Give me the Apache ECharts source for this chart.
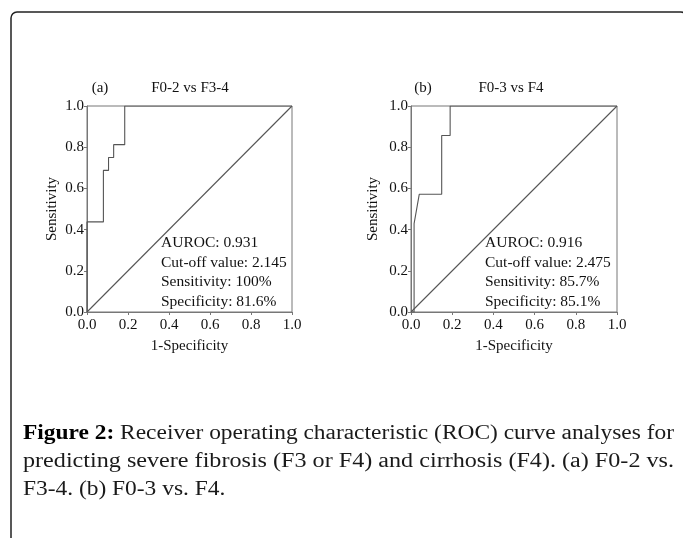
<!DOCTYPE html>
<html>
<head>
<meta charset="utf-8">
<script src="https://cdn.jsdelivr.net/npm/echarts@6/dist/echarts.min.js"></script>
<style>html,body{margin:0;padding:0;background:#fff;}#c{width:683px;height:538px;}</style>
</head>
<body>
<div id="c"></div>
<script>
// Panel (a): F0-2 vs F3-4
var fprA = [0, 0, 0.08, 0.08, 0.105, 0.105, 0.13, 0.13, 0.184, 0.184, 1];
var tprA = [0, 0.4375, 0.4375, 0.6875, 0.6875, 0.75, 0.75, 0.8125, 0.8125, 1, 1];
// Panel (b): F0-3 vs F4
var fprB = [0, 0.015, 0.015, 0.04, 0.149, 0.149, 0.19, 0.19, 1];
var tprB = [0, 0, 0.4286, 0.5714, 0.5714, 0.857, 0.857, 1, 1];
var diagX = [0, 1];
var diagY = [0, 1];
var ticks = ['0.0', '0.2', '0.4', '0.6', '0.8', '1.0'];
var panelTags = ['(a)', '(b)'];
var panelTitles = ['F0-2 vs F3-4', 'F0-3 vs F4'];
var statsA = ['AUROC: 0.931', 'Cut-off value: 2.145', 'Sensitivity: 100%', 'Specificity: 81.6%'];
var statsB = ['AUROC: 0.916', 'Cut-off value: 2.475', 'Sensitivity: 85.7%', 'Specificity: 85.1%'];
var xName = '1-Specificity';
var yName = 'Sensitivity';
var captionBold = 'Figure 2:';
var captionLines = [
  ' Receiver operating characteristic (ROC) curve analyses for',
  'predicting severe fibrosis (F3 or F4) and cirrhosis (F4). (a) F0-2 vs.',
  'F3-4. (b) F0-3 vs. F4.'
];

function pairs(xs, ys) { return xs.map(function (x, i) { return [x, ys[i]]; }); }

var FONT = 'Liberation Serif';
var TXT = '#111';
var grids = [
  { left: 87, top: 106, width: 205, height: 206 },
  { left: 411, top: 106, width: 206, height: 206 }
];
var yGaps = [27, 30];

function fmt(v) { return ticks[Math.round(v * 5)]; }

var xAxes = [], yAxes = [];
[0, 1].forEach(function (i) {
  xAxes.push({
    type: 'value', gridIndex: i, min: 0, max: 1, interval: 0.2,
    name: xName, nameLocation: 'middle', nameGap: 27,
    nameTextStyle: { fontFamily: FONT, fontSize: 15, color: TXT },
    axisLine: { show: true, lineStyle: { color: '#777', width: 1 } },
    axisTick: { show: true, length: 3, lineStyle: { color: '#777' } },
    axisLabel: { formatter: fmt, fontFamily: FONT, fontSize: 15, color: TXT, margin: 6 },
    splitLine: { show: false }
  });
  yAxes.push({
    type: 'value', gridIndex: i, min: 0, max: 1, interval: 0.2,
    name: yName, nameLocation: 'middle', nameGap: yGaps[i],
    nameTextStyle: { fontFamily: FONT, fontSize: 15, color: TXT },
    axisLine: { show: true, lineStyle: { color: '#777', width: 1 } },
    axisTick: { show: true, length: 3, lineStyle: { color: '#777' } },
    axisLabel: { formatter: fmt, fontFamily: FONT, fontSize: 15, color: TXT, margin: 3 },
    splitLine: { show: false }
  });
});

var lineStyle = { color: '#555', width: 1.1 };
var series = [
  { type: 'line', xAxisIndex: 0, yAxisIndex: 0, data: pairs(fprA, tprA), showSymbol: false, lineStyle: lineStyle, animation: false },
  { type: 'line', xAxisIndex: 0, yAxisIndex: 0, data: pairs(diagX, diagY), showSymbol: false, lineStyle: lineStyle, animation: false },
  { type: 'line', xAxisIndex: 1, yAxisIndex: 1, data: pairs(fprB, tprB), showSymbol: false, lineStyle: lineStyle, animation: false },
  { type: 'line', xAxisIndex: 1, yAxisIndex: 1, data: pairs(diagX, diagY), showSymbol: false, lineStyle: lineStyle, animation: false }
];

var graphic = [
  { type: 'rect', shape: { x: 11, y: 12, width: 676, height: 600, r: 6 },
    style: { fill: 'none', stroke: '#222', lineWidth: 1.5 }, silent: true }
];
var tagX = [100, 423], titleX = [190, 511], statX = [161, 485];
var statY = [243, 263, 282, 302];
[0, 1].forEach(function (i) {
  graphic.push({ type: 'text', x: tagX[i], y: 88, style: { text: panelTags[i], font: '15px "' + FONT + '"', fill: TXT, align: 'center', verticalAlign: 'middle' } });
  graphic.push({ type: 'text', x: titleX[i], y: 88, style: { text: panelTitles[i], font: '15px "' + FONT + '"', fill: TXT, align: 'center', verticalAlign: 'middle' } });
  var st = i === 0 ? statsA : statsB;
  st.forEach(function (s, k) {
    graphic.push({ type: 'text', x: statX[i], y: statY[k], style: { text: s, font: '15.5px "' + FONT + '"', fill: TXT, align: 'left', verticalAlign: 'middle' } });
  });
});

// caption: measure to stretch justified lines to the reference text width
var CAP_SIZE = 20.5;
var ctx = document.createElement('canvas').getContext('2d');
function w(txt, bold) { ctx.font = (bold ? 'bold ' : '') + CAP_SIZE + 'px "' + FONT + '"'; return ctx.measureText(txt).width; }
var target = 651;
var w1 = w(captionBold, true) + w(captionLines[0], false);
var w2 = w(captionLines[1], false);
var s1 = target / w1, s2 = target / w2;
var capScales = [s1, s2, s1];
var capY = [434, 462, 490];
captionLines.forEach(function (t, k) {
  var txt = k === 0 ? '{b|' + captionBold + '}' + t : t;
  graphic.push({ type: 'text', x: 23, y: capY[k], scaleX: capScales[k], style: {
    text: txt, fontFamily: FONT, fontSize: CAP_SIZE, fill: '#1a1a1a', align: 'left', verticalAlign: 'middle',
    rich: { b: { fontFamily: FONT, fontSize: CAP_SIZE, fontWeight: 'bold', fill: '#000' } }
  } });
});

var chart = echarts.init(document.getElementById('c'), null, { renderer: 'canvas' });
chart.setOption({
  animation: false,
  backgroundColor: '#fff',
  grid: grids.map(function (g) { return Object.assign({ show: true, borderColor: '#777', borderWidth: 1, backgroundColor: 'transparent' }, g); }),
  xAxis: xAxes,
  yAxis: yAxes,
  series: series,
  graphic: graphic
});
</script>
</body>
</html>
